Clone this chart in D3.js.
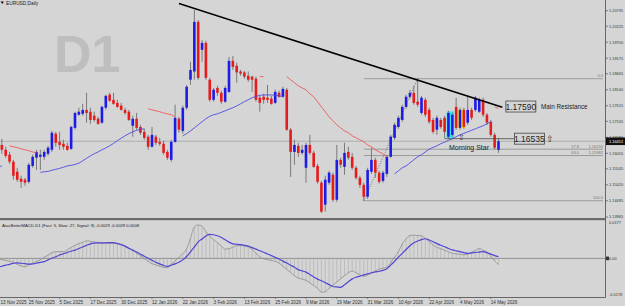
<!DOCTYPE html>
<html>
<head>
<meta charset="utf-8">
<script src="https://cdn.jsdelivr.net/npm/d3@7"></script>
<style>
  html, body { margin: 0; padding: 0; background: #d5d5d5; }
  svg { display: block; font-family: "Liberation Sans", Arial, sans-serif; }
</style>
</head>
<body>
<svg id="chart" width="625" height="306"></svg>
<script>
// Time axis labels, one every 8 daily bars starting at bar 0
const timeLabels = ['13 Nov 2025', '25 Nov 2025', '5 Dec 2025', '17 Dec 2025', '30 Dec 2025', '12 Jan 2026',
  '22 Jan 2026', '3 Feb 2026', '13 Feb 2026', '25 Feb 2026', '9 Mar 2026', '19 Mar 2026', '31 Mar 2026',
  '10 Apr 2026', '22 Apr 2026', '4 May 2026', '14 May 2026'];

// Price axis labels
const priceTicks = [1.20735, 1.20225, 1.19700, 1.19175, 1.18665, 1.18140, 1.17615, 1.17105,
  1.16580, 1.16055, 1.15545, 1.15020, 1.14495, 1.13965];

// EURUSD daily candles: [open, high, low, close]
const ohlc = [
  [1.1650,1.1660,1.1627,1.1633],[1.1633,1.1653,1.1604,1.1617],[1.1617,1.1627,1.1591,1.1597],[1.1601,1.1610,1.1571,1.1578],
  [1.1578,1.1584,1.1519,1.1532],[1.1545,1.1558,1.1512,1.1519],[1.1522,1.1532,1.1492,1.1512],[1.1519,1.1525,1.1499,1.1509],
  [1.1512,1.1574,1.1506,1.1568],[1.1564,1.1601,1.1558,1.1594],[1.1591,1.1617,1.1551,1.1610],[1.1594,1.1617,1.1551,1.1601],
  [1.1594,1.1617,1.1584,1.1610],[1.1604,1.1630,1.1597,1.1624],[1.1617,1.1679,1.1610,1.1673],[1.1670,1.1676,1.1627,1.1640],
  [1.1643,1.1676,1.1617,1.1633],[1.1637,1.1650,1.1617,1.1627],[1.1630,1.1640,1.1614,1.1617],[1.1620,1.1696,1.1617,1.1692],
  [1.1689,1.1742,1.1683,1.1738],[1.1732,1.1755,1.1729,1.1742],[1.1735,1.1768,1.1729,1.1748],[1.1748,1.1804,1.1706,1.1738],
  [1.1742,1.1755,1.1702,1.1715],[1.1729,1.1742,1.1709,1.1715],[1.1719,1.1725,1.1699,1.1702],[1.1706,1.1762,1.1702,1.1758],
  [1.1755,1.1798,1.1748,1.1794],[1.1798,1.1804,1.1775,1.1778],[1.1781,1.1804,1.1765,1.1768],[1.1771,1.1781,1.1755,1.1758],
  [1.1762,1.1771,1.1745,1.1748],[1.1748,1.1755,1.1732,1.1738],[1.1742,1.1748,1.1712,1.1715],[1.1696,1.1729,1.1660,1.1719],
  [1.1719,1.1738,1.1683,1.1689],[1.1692,1.1699,1.1666,1.1673],[1.1676,1.1686,1.1650,1.1656],[1.1660,1.1666,1.1617,1.1627],
  [1.1627,1.1692,1.1624,1.1666],[1.1660,1.1666,1.1633,1.1640],[1.1643,1.1656,1.1630,1.1637],[1.1637,1.1647,1.1601,1.1607],
  [1.1610,1.1617,1.1584,1.1591],[1.1584,1.1650,1.1578,1.1643],[1.1643,1.1765,1.1640,1.1722],[1.1719,1.1725,1.1673,1.1683],
  [1.1679,1.1762,1.1670,1.1755],[1.1755,1.1830,1.1748,1.1824],[1.1847,1.1906,1.1830,1.1879],[1.1874,1.2076,1.1847,1.2037],
  [1.2037,1.2043,1.1847,1.1853],[1.1945,1.1978,1.1906,1.1968],[1.1968,1.1975,1.1847,1.1853],[1.1847,1.1853,1.1775,1.1781],
  [1.1781,1.1820,1.1775,1.1814],[1.1820,1.1827,1.1794,1.1804],[1.1804,1.1811,1.1768,1.1775],[1.1775,1.1827,1.1771,1.1820],
  [1.1807,1.1922,1.1804,1.1909],[1.1909,1.1925,1.1879,1.1889],[1.1893,1.1903,1.1837,1.1871],[1.1874,1.1879,1.1860,1.1867],
  [1.1871,1.1876,1.1850,1.1857],[1.1860,1.1874,1.1840,1.1847],[1.1857,1.1860,1.1807,1.1847],[1.1850,1.1857,1.1775,1.1781],
  [1.1788,1.1794,1.1742,1.1771],[1.1791,1.1801,1.1768,1.1781],[1.1788,1.1830,1.1771,1.1781],[1.1785,1.1794,1.1765,1.1768],
  [1.1771,1.1814,1.1768,1.1807],[1.1804,1.1811,1.1788,1.1791],[1.1791,1.1824,1.1788,1.1817],[1.1814,1.1820,1.1679,1.1683],
  [1.1683,1.1689,1.1528,1.1610],[1.1610,1.1650,1.1568,1.1633],[1.1630,1.1640,1.1594,1.1607],[1.1607,1.1633,1.1601,1.1617],
  [1.1558,1.1640,1.1509,1.1633],[1.1633,1.1666,1.1601,1.1607],[1.1607,1.1614,1.1558,1.1561],[1.1564,1.1571,1.1506,1.1512],
  [1.1509,1.1515,1.1410,1.1414],[1.1437,1.1532,1.1414,1.1519],[1.1509,1.1548,1.1502,1.1542],[1.1535,1.1542,1.1446,1.1453],
  [1.1453,1.1633,1.1446,1.1584],[1.1584,1.1591,1.1558,1.1568],[1.1561,1.1640,1.1535,1.1607],[1.1610,1.1627,1.1584,1.1591],
  [1.1594,1.1607,1.1551,1.1558],[1.1558,1.1564,1.1519,1.1525],[1.1525,1.1532,1.1492,1.1502],[1.1502,1.1509,1.1450,1.1463],
  [1.1463,1.1558,1.1456,1.1551],[1.1545,1.1624,1.1538,1.1584],[1.1584,1.1591,1.1525,1.1542],[1.1542,1.1548,1.1506,1.1512],
  [1.1515,1.1548,1.1509,1.1542],[1.1538,1.1601,1.1528,1.1594],[1.1594,1.1666,1.1591,1.1660],[1.1656,1.1706,1.1650,1.1699],
  [1.1692,1.1729,1.1686,1.1722],[1.1715,1.1765,1.1709,1.1758],[1.1758,1.1798,1.1752,1.1791],[1.1791,1.1814,1.1785,1.1804],
  [1.1804,1.1827,1.1765,1.1771],[1.1775,1.18505,1.1758,1.1765],[1.1738,1.1794,1.1732,1.1788],[1.1781,1.1788,1.1725,1.1732],
  [1.1748,1.1755,1.1702,1.1709],[1.1715,1.1722,1.1670,1.1676],[1.1683,1.1729,1.1666,1.1722],[1.1715,1.1722,1.1686,1.1692],
  [1.1722,1.1729,1.1656,1.1676],[1.1660,1.1745,1.1653,1.1738],[1.1666,1.1738,1.1660,1.1732],[1.1758,1.1788,1.1683,1.1689],
  [1.1689,1.1755,1.1683,1.1748],[1.1748,1.1755,1.1686,1.1692],[1.1706,1.1791,1.1699,1.1748],[1.1748,1.1755,1.1715,1.1722],
  [1.1748,1.1794,1.1742,1.1788],[1.1742,1.1788,1.1738,1.1781],[1.1781,1.1788,1.1725,1.1732],[1.1732,1.1738,1.1699,1.1706],
  [1.1709,1.1715,1.1660,1.1666],[1.1666,1.1673,1.1617,1.1624],[1.1617,1.1656,1.1607,1.16451]
];

// Moving average pieces, [first bar, values] (only drawn where visible)
const maBlue = [
  [0, [1.1561, 1.1564]],
  [11, [1.1543,1.1545,1.1546,1.1550,1.1553,1.1556,1.1560,1.1564,1.1566,1.1569,1.1573,1.1581,1.1589,1.1597,
        1.1604,1.1610,1.1617,1.1623,1.1630,1.1638,1.1647,1.1655,1.1663,1.1670,1.1676,1.1681,1.1684,1.1686]],
  [48, [1.1663,1.1670,1.1679,1.1689,1.1699,1.1709,1.1719,1.1727,1.1732,1.1735,1.1740,1.1745,1.1750,1.1755,
        1.1761,1.1768,1.1775,1.1781,1.1788,1.1792,1.1796,1.1797,1.1797,1.1797,1.1796,1.1794,1.1792]],
  [103, [1.1538,1.1548,1.1558,1.1564,1.1574,1.1584,1.1594,1.1601,1.1610,1.1619,1.1625,1.1630,1.1637,1.1642,
         1.1648,1.1653,1.1660,1.1666,1.1671,1.1676,1.1681,1.1686,1.1691,1.1696,1.1702,1.1709]]
];
const maRed = [
  [3, [1.1630,1.1627,1.1624,1.1620,1.1617,1.1614,1.1610,1.1607]],
  [39, [1.1752,1.1748,1.1745,1.1742,1.1738,1.1735,1.1732,1.1725]],
  [68, [1.1857,1.1857]],
  [75, [1.1857,1.1847,1.1837,1.1827,1.1820,1.1814,1.1801,1.1791,1.1775,1.1758,1.1742,1.1725,1.1712,1.1699,
        1.1689,1.1679,1.1673,1.1663,1.1656,1.1650,1.1643,1.1633,1.1627,1.1617,1.1610,1.1604,1.1594]],
  [129, [1.1758, 1.1752]]
];

// MACD (fast 5, slow 27, signal 9)
const macdMain = [
  -0.0002,-0.0006,-0.0010,-0.0014,-0.0019,-0.0028,-0.0036,-0.0040,-0.0031,-0.0023,
  -0.0015,-0.0006,0.0005,0.0016,0.0027,0.0032,0.0032,0.0032,0.0041,0.0052,
  0.0062,0.0070,0.0076,0.0083,0.0081,0.0078,0.0075,0.0072,0.0071,0.0071,
  0.0071,0.0071,0.0066,0.0056,0.0047,0.0037,0.0026,0.0013,-0.0001,-0.0014,
  -0.0025,-0.0031,-0.0037,-0.0043,-0.0044,-0.0029,-0.0013,0.0005,0.0023,0.0045,
  0.0096,0.0149,0.0158,0.0152,0.0126,0.0105,0.0089,0.0074,0.0059,0.0044,
  0.0046,0.0053,0.0060,0.0061,0.0058,0.0054,0.0043,0.0025,0.0007,-0.0002,
  -0.0006,-0.0010,-0.0014,-0.0022,-0.0037,-0.0052,-0.0067,-0.0082,-0.0093,-0.0098,
  -0.0104,-0.0116,-0.0128,-0.0141,-0.0160,-0.0158,-0.0141,-0.0127,-0.0112,-0.0096,
  -0.0082,-0.0068,-0.0060,-0.0068,-0.0077,-0.0085,-0.0079,-0.0070,-0.0060,-0.0051,
  -0.0046,-0.0042,-0.0021,0.0006,0.0032,0.0068,0.0092,0.0109,0.0110,0.0108,
  0.0107,0.0095,0.0080,0.0064,0.0053,0.0046,0.0039,0.0031,0.0024,0.0022,
  0.0020,0.0017,0.0020,0.0029,0.0038,0.0047,0.0038,0.0031,0.0009,-0.0012,
  -0.0029
];
const macdSignal = [
  -0.0040,-0.0037,-0.0032,-0.0028,-0.0023,-0.0021,-0.0023,-0.0025,-0.0027,-0.0026,
  -0.0023,-0.0019,-0.0015,-0.0007,0.0001,0.0008,0.0016,0.0022,0.0028,0.0034,
  0.0039,0.0047,0.0054,0.0062,0.0069,0.0072,0.0073,0.0073,0.0074,0.0075,
  0.0075,0.0070,0.0065,0.0058,0.0048,0.0039,0.0030,0.0020,0.0010,0.0001,
  -0.0009,-0.0018,-0.0026,-0.0033,-0.0038,-0.0032,-0.0026,-0.0018,-0.0007,0.0009,
  0.0031,0.0054,0.0078,0.0092,0.0106,0.0114,0.0112,0.0107,0.0099,0.0088,
  0.0077,0.0069,0.0067,0.0065,0.0062,0.0058,0.0051,0.0044,0.0036,0.0029,
  0.0021,0.0013,0.0005,-0.0003,-0.0013,-0.0022,-0.0032,-0.0042,-0.0053,-0.0059,
  -0.0065,-0.0076,-0.0088,-0.0098,-0.0106,-0.0115,-0.0124,-0.0133,-0.0135,-0.0137,
  -0.0125,-0.0111,-0.0097,-0.0089,-0.0084,-0.0078,-0.0073,-0.0068,-0.0064,-0.0061,
  -0.0057,-0.0049,-0.0032,-0.0014,0.0006,0.0024,0.0042,0.0060,0.0074,0.0082,
  0.0089,0.0093,0.0087,0.0079,0.0070,0.0062,0.0055,0.0047,0.0040,0.0036,
  0.0032,0.0027,0.0024,0.0026,0.0028,0.0030,0.0032,0.0027,0.0020,0.0013,
  0.0008
];

// Drawn objects
const trendLine = [[47, 1.2097], [131, 1.1757]];     // Main Resistance
const resistancePrice = 1.17590;
const supportLine = [116, 134, 1.16535];               // from bar, to bar, price
const fibAnchors = [[95, 1.14500], [109, 1.18505]];     // low bar, high bar
const fibLevels = [0, 57.8, 63.0, 100];
const patternBoxes = [[117, 118, 1.1743, 1.1655], [120, 121, 1.1748, 1.1689]]; // morning star
const bid = 1.16451;
const macdRange = [-0.0178, 0.0177];

const W = 625, H = 306, plotR = 605;
const mainBottom = 218, subTop = 220, subBottom = 297;

const svg = d3.select('#chart');

svg.append('rect').attr('width', W).attr('height', H).attr('fill', '#d5d5d5');

// Scales
const x = d3.scaleLinear().domain([0, ohlc.length - 1]).range([-2, 498.5]);
const y = d3.scaleLinear().domain([1.13932, 1.21086]).range([mainBottom, 0]);
const m = d3.scaleLinear().domain(macdRange).range([296, 221]);

const defs = svg.append('defs');
defs.append('clipPath').attr('id', 'clipMain')
  .append('rect').attr('x', 0).attr('y', 0).attr('width', plotR).attr('height', mainBottom);
defs.append('clipPath').attr('id', 'clipSub')
  .append('rect').attr('x', 0).attr('y', subTop).attr('width', plotR).attr('height', subBottom - subTop);

const main = svg.append('g').attr('clip-path', 'url(#clipMain)');
const sub = svg.append('g').attr('clip-path', 'url(#clipSub)');

// Watermark
main.append('text')
  .attr('x', 54).attr('y', 72)
  .attr('font-size', 52).attr('font-weight', 'bold')
  .attr('fill', '#bebebe')
  .text('D1');

// Bid line
main.append('line')
  .attr('x1', 0).attr('x2', plotR)
  .attr('y1', y(bid)).attr('y2', y(bid))
  .attr('stroke', '#a3a3a3').attr('stroke-width', 0.8);

// Morning star highlight boxes
main.selectAll('rect.pattern')
  .data(patternBoxes)
  .enter()
  .append('rect')
  .attr('class', 'pattern')
  .attr('x', d => x(d[0]) - 1.8)
  .attr('width', d => x(d[1]) - x(d[0]) + 3.6)
  .attr('y', d => y(d[2]))
  .attr('height', d => y(d[3]) - y(d[2]))
  .attr('fill', (d, i) => i === 0 ? '#2ee6f5' : '#fff200');

// Fibonacci levels
const fibHi = fibAnchors[1][1], fibLo = fibAnchors[0][1];
const fibPrice = lv => fibHi - lv / 100 * (fibHi - fibLo);
const fibG = main.append('g');
fibG.selectAll('line')
  .data(fibLevels)
  .enter()
  .append('line')
  .attr('x1', x(fibAnchors[0][0])).attr('x2', 603)
  .attr('y1', d => y(fibPrice(d))).attr('y2', d => y(fibPrice(d)))
  .attr('stroke', d => (d === 0 || d === 100) ? '#a9a9a9' : '#8c8c8c')
  .attr('stroke-width', d => (d === 0 || d === 100) ? 1.3 : 0.8);
fibG.selectAll('text.lv')
  .data(fibLevels)
  .enter()
  .append('text')
  .attr('class', 'lv')
  .attr('x', d => (d === 0 || d === 100) ? 603 : 579)
  .attr('y', d => y(fibPrice(d)) - 1.5)
  .attr('text-anchor', 'end')
  .attr('font-size', 4)
  .attr('fill', '#777')
  .text(d => d.toFixed(1));
fibG.selectAll('text.pr')
  .data(fibLevels.filter(d => d !== 0 && d !== 100))
  .enter()
  .append('text')
  .attr('class', 'pr')
  .attr('x', 603)
  .attr('y', d => y(fibPrice(d)) - 1.5)
  .attr('text-anchor', 'end')
  .attr('font-size', 4)
  .attr('fill', '#777')
  .text(d => fibPrice(d).toFixed(5));
// diagonal of the fibo tool
main.append('line')
  .attr('x1', x(fibAnchors[0][0])).attr('y1', y(fibAnchors[0][1]))
  .attr('x2', x(fibAnchors[1][0])).attr('y2', y(fibAnchors[1][1]))
  .attr('stroke', '#555').attr('stroke-width', 0.8).attr('stroke-dasharray', '1,1.5');

// Candles
const candles = main.selectAll('g.candle')
  .data(ohlc)
  .enter()
  .append('g')
  .attr('class', 'candle');

candles.append('line') // wick
  .attr('x1', (d, i) => x(i)).attr('x2', (d, i) => x(i))
  .attr('y1', d => y(d[1])).attr('y2', d => y(d[2]))
  .attr('stroke', '#6f6f6f').attr('stroke-width', 0.9);

candles.append('rect') // body
  .attr('x', (d, i) => x(i) - 1.3)
  .attr('width', 2.6)
  .attr('y', d => y(Math.max(d[0], d[3])))
  .attr('height', d => Math.max(1, Math.abs(y(d[0]) - y(d[3]))))
  .attr('fill', d => d[3] >= d[0] ? '#1c1ce6' : '#e51c1c');

// Moving averages
function fromPieces(pieces, n) {
  const out = new Array(n).fill(null);
  pieces.forEach(([start, vals]) => vals.forEach((v, k) => { out[start + k] = v; }));
  return out;
}
const maLine = d3.line()
  .defined(d => d != null)
  .x((d, i) => x(i))
  .y(d => y(d));

main.append('path')
  .datum(fromPieces(maBlue, ohlc.length))
  .attr('d', maLine)
  .attr('fill', 'none').attr('stroke', '#4d4de0').attr('stroke-width', 0.9);
main.append('path')
  .datum(fromPieces(maRed, ohlc.length))
  .attr('d', maLine)
  .attr('fill', 'none').attr('stroke', '#ec5a5a').attr('stroke-width', 0.9);

// Main resistance trend line
main.append('line')
  .attr('x1', x(trendLine[0][0])).attr('y1', y(trendLine[0][1]))
  .attr('x2', x(trendLine[1][0])).attr('y2', y(trendLine[1][1]))
  .attr('stroke', '#000').attr('stroke-width', 1.6);

const boxAt = (bx, by, label) => {
  main.append('rect')
    .attr('x', bx).attr('y', by - 5.5)
    .attr('width', 30).attr('height', 11)
    .attr('fill', 'none').attr('stroke', '#444').attr('stroke-width', 0.8);
  main.append('text')
    .attr('x', bx + 15).attr('y', by + 3)
    .attr('text-anchor', 'middle')
    .attr('font-size', 8.5).attr('fill', '#222')
    .text(label);
};
boxAt(x(trendLine[1][0]) + 3.5, y(resistancePrice), resistancePrice.toFixed(5));
main.append('text')
  .attr('x', 541).attr('y', y(resistancePrice) + 2.5)
  .attr('font-size', 6.3).attr('fill', '#222')
  .text('Main Resistance');

// Horizontal support level
main.append('line')
  .attr('x1', x(supportLine[0])).attr('x2', x(supportLine[1]))
  .attr('y1', y(supportLine[2])).attr('y2', y(supportLine[2]))
  .attr('stroke', '#4a4a4a').attr('stroke-width', 0.8);
boxAt(x(supportLine[1]) + 0.5, y(supportLine[2]), supportLine[2].toFixed(5));
main.append('text')
  .attr('x', x(supportLine[1]) + 32).attr('y', y(supportLine[2]) + 3.5)
  .attr('font-size', 9).attr('fill', '#333')
  .text('⇧');

// Morning star label
main.append('text')
  .attr('x', x(patternBoxes[1][0]) + 1.5).attr('y', y(supportLine[2]) + 1)
  .attr('text-anchor', 'middle')
  .attr('font-size', 7.5).attr('fill', '#333')
  .text('⇧');
main.append('text')
  .attr('x', x(patternBoxes[0][0]) + 0.5).attr('y', 149.5)
  .attr('font-size', 7).attr('fill', '#222')
  .text('Morning Star');

// Title
svg.append('path').attr('d', 'M0.5,1.5 L4,1.5 L2.25,4 Z').attr('fill', '#111');
svg.append('text')
  .attr('x', 6).attr('y', 4.6)
  .attr('font-size', 4.8).attr('fill', '#222')
  .text('EURUSD,Daily');

// MACD panel
sub.append('line')
  .attr('x1', 0).attr('x2', plotR)
  .attr('y1', m(0)).attr('y2', m(0))
  .attr('stroke', '#8a8a8a').attr('stroke-width', 0.9);

sub.selectAll('line.hist')
  .data(macdMain)
  .enter()
  .append('line')
  .attr('class', 'hist')
  .attr('x1', (d, i) => x(i)).attr('x2', (d, i) => x(i))
  .attr('y1', m(0)).attr('y2', d => m(d))
  .attr('stroke', '#ababab').attr('stroke-width', 0.6);

const macdLine = d3.line().x((d, i) => x(i)).y(d => m(d)).curve(d3.curveMonotoneX);
sub.append('path')
  .datum(macdMain)
  .attr('d', macdLine)
  .attr('fill', 'none').attr('stroke', '#8d8d8d').attr('stroke-width', 0.8);
sub.append('path')
  .datum(macdSignal)
  .attr('d', macdLine)
  .attr('fill', 'none').attr('stroke', '#5046d2').attr('stroke-width', 1.2);

svg.append('text')
  .attr('x', 2).attr('y', 227)
  .attr('font-size', 4.2).attr('fill', '#222')
  .text('AtasBetterMACD-D1 (Fast: 5, Slow: 27, Signal: 9) ' +
    macdMain[macdMain.length - 1].toFixed(4) + ' ' + macdMain[macdMain.length - 1].toFixed(4) + ' ' +
    macdSignal[macdSignal.length - 1].toFixed(4));

// Frames
svg.append('rect').attr('x', 0).attr('y', mainBottom).attr('width', plotR + 1).attr('height', 2.2).attr('fill', '#6b6b6b');
svg.append('line').attr('x1', 0).attr('x2', plotR + 0.5).attr('y1', subBottom + 0.5).attr('y2', subBottom + 0.5)
  .attr('stroke', '#666').attr('stroke-width', 1);
svg.append('line').attr('x1', plotR + 0.5).attr('x2', plotR + 0.5).attr('y1', 0).attr('y2', subBottom + 0.5)
  .attr('stroke', '#666').attr('stroke-width', 1);

// Price axis
const pAxis = svg.append('g');
pAxis.selectAll('line')
  .data(priceTicks)
  .enter()
  .append('line')
  .attr('x1', plotR).attr('x2', plotR + 3)
  .attr('y1', d => y(d)).attr('y2', d => y(d))
  .attr('stroke', '#555').attr('stroke-width', 0.7);
pAxis.selectAll('text')
  .data(priceTicks)
  .enter()
  .append('text')
  .attr('x', 609).attr('y', d => y(d) + 1.4)
  .attr('font-size', 3.9).attr('fill', '#333')
  .text(d => d.toFixed(5));

// Current price tag
svg.append('rect').attr('x', 606).attr('y', y(bid) - 3.8).attr('width', 19).attr('height', 7.6).attr('fill', '#111');
svg.append('text')
  .attr('x', 609).attr('y', y(bid) + 1.5)
  .attr('font-size', 3.9).attr('fill', '#fff')
  .text(bid.toFixed(5));

// MACD axis
const mTicks = [macdRange[1], 0, macdRange[0]];
svg.selectAll('text.mt')
  .data(mTicks)
  .enter()
  .append('text')
  .attr('class', 'mt')
  .attr('x', 609)
  .attr('y', d => Math.min(Math.max(m(d), 223), 294.5) + 1.4)
  .attr('font-size', 3.9).attr('fill', '#333')
  .text(d => d === 0 ? '0.00' : d.toFixed(4));
svg.append('rect').attr('x', 606).attr('y', m(0) - 1.8).attr('width', 3).attr('height', 3.6).attr('fill', '#333');

// Time axis (first label kept inside the window)
svg.selectAll('text.tm')
  .data(timeLabels)
  .enter()
  .append('text')
  .attr('class', 'tm')
  .attr('x', (d, i) => Math.max(0.5, x(i * 8)))
  .attr('y', 303.5)
  .attr('font-size', 4.6).attr('fill', '#333')
  .text(d => d);
svg.selectAll('line.tk')
  .data(timeLabels)
  .enter()
  .append('line')
  .attr('class', 'tk')
  .attr('x1', (d, i) => x(i * 8)).attr('x2', (d, i) => x(i * 8))
  .attr('y1', subBottom).attr('y2', subBottom + 2)
  .attr('stroke', '#555').attr('stroke-width', 0.6);
</script>
</body>
</html>
